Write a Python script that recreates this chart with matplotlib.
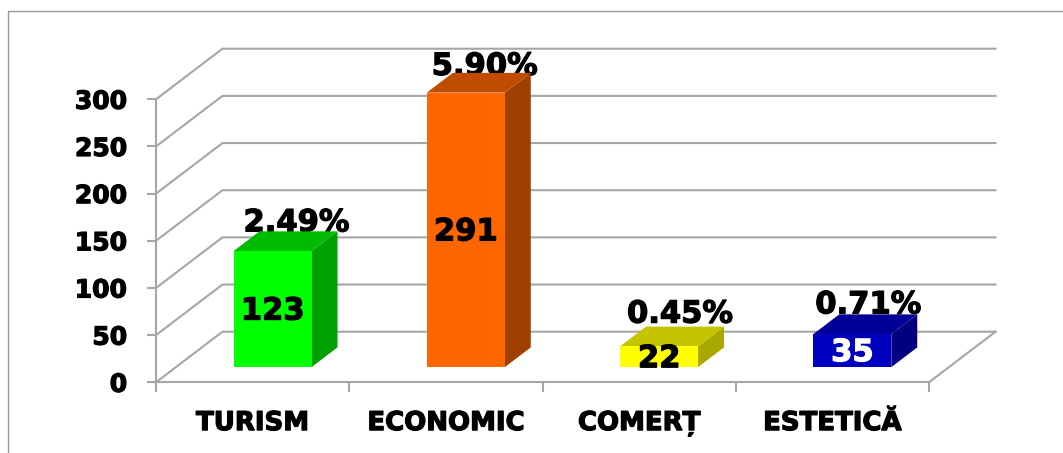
import matplotlib
matplotlib.use("Agg")
import matplotlib.pyplot as plt
import matplotlib.patheffects as pe
from matplotlib.patches import Polygon

categories = ["TURISM", "ECONOMIC", "COMERȚ", "ESTETICĂ"]
values = [123, 291, 22, 35]
percents = ["2.49%", "5.90%", "0.45%", "0.71%"]
front_colors = ["#00FF00", "#FF6600", "#FFFF00", "#0000C0"]
top_colors = ["#00BB00", "#BF4C00", "#C4C400", "#000099"]
side_colors = ["#00A000", "#A04000", "#A8A800", "#000080"]
value_colors = ["black", "black", "black", "white"]
y_ticks = [0, 50, 100, 150, 200, 250, 300]

W, H = 1063, 453
fig = plt.figure(figsize=(W / 100, H / 100), dpi=100)
L, R, B, T = 156, 929, 382.3, 99.3
ax = fig.add_axes([L / W, 1 - B / H, (R - L) / W, (B - T) / H])
ax.set_xlim(0, 4)
ax.set_ylim(0, 300)
ax.patch.set_visible(False)

GREY = "#A6A6A6"
px_x = 4 / (R - L)
px_y = 300 / (B - T)
DX, DY = 66.5 * px_x, 50.6 * px_y


def pt(x, y, d):
    """Oblique projection: d is depth, 0 at the front and 1 at the back wall."""
    return (x + d * DX, y + d * DY)


FONT = "DejaVu Sans"
stroke_k = [pe.withStroke(linewidth=0.9, foreground="black")]
stroke_w = [pe.withStroke(linewidth=0.9, foreground="white")]

# walls
for v in y_ticks:
    ax.plot(*zip(pt(0, v, 0), pt(0, v, 1), pt(4, v, 1)), color=GREY, lw=1.5,
            clip_on=False, zorder=1, solid_joinstyle="miter")
ax.plot(*zip(pt(4, 0, 0), pt(4, 0, 1)), color=GREY, lw=1.5, clip_on=False, zorder=1)

# axes
for s in ("top", "right"):
    ax.spines[s].set_visible(False)
for s in ("left", "bottom"):
    ax.spines[s].set_color(GREY)
    ax.spines[s].set_linewidth(1.5)
ax.set_yticks(y_ticks)
ax.set_yticklabels([str(v) for v in y_ticks], fontfamily=FONT, fontweight="bold", fontsize=18,
                   path_effects=stroke_k)
ax.set_xticks(range(5))
ax.set_xticklabels([])
ax.set_xticks([i + 0.5 for i in range(4)], minor=True)
ax.set_xticklabels(categories, minor=True, fontfamily=FONT, fontweight="bold", fontsize=18.7,
                   path_effects=stroke_k)
ax.tick_params(axis="y", which="major", length=6.2, width=1.5, color=GREY, pad=14.5)
ax.tick_params(axis="x", which="major", length=7, width=1.5, color=GREY)
ax.tick_params(axis="x", which="minor", length=0, pad=20)

# bars
BAR_W = 78 * px_x
D0, D1 = 0.3, 0.69
# nudges of the percent labels from the bar's back top centre, in pixels
label_nudge = [(-2, 0), (-7, -2), (-5, 4), (-10, 1)]
for i, v in enumerate(values):
    x0 = i + 0.5 - BAR_W / 2
    x1 = i + 0.5 + BAR_W / 2
    front = [pt(x0, 0, D0), pt(x1, 0, D0), pt(x1, v, D0), pt(x0, v, D0)]
    side = [pt(x1, 0, D0), pt(x1, 0, D1), pt(x1, v, D1), pt(x1, v, D0)]
    top = [pt(x0, v, D0), pt(x1, v, D0), pt(x1, v, D1), pt(x0, v, D1)]
    for poly, c in ((side, side_colors[i]), (top, top_colors[i]), (front, front_colors[i])):
        ax.add_patch(Polygon(poly, closed=True, facecolor=c, edgecolor="none",
                             clip_on=False, zorder=3))
    cx, cy = pt(i + 0.5, v / 2, D0)
    ax.text(cx, cy + 1 * px_y, str(v), ha="center", va="center_baseline", fontfamily=FONT,
            fontweight="bold", fontsize=22, color=value_colors[i], zorder=5, clip_on=False,
            path_effects=stroke_w if value_colors[i] == "white" else stroke_k)
    lx, ly = pt(i + 0.5, v, D1)
    nx, ny = label_nudge[i]
    ax.text(lx + nx * px_x, ly + ny * px_y, percents[i], ha="center", va="baseline",
            fontfamily=FONT, fontweight="bold", fontsize=22, color="black",
            zorder=4 if i == 3 else 2, clip_on=False, path_effects=stroke_k)

# frame
fig.add_artist(plt.Line2D([7.5 / W, 7.5 / W, 1], [0, 1 - 10.5 / H, 1 - 10.5 / H],
                          color="#9A9A9A", lw=1.0))

fig.savefig("out.png", dpi=100, facecolor="white")
